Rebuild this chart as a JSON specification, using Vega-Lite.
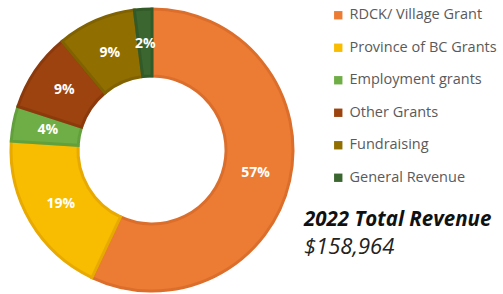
{
  "$schema": "https://vega.github.io/schema/vega-lite/v6.json",
  "width": 304,
  "height": 290,
  "autosize": {"type": "none"},
  "padding": {"left": 0, "top": 5, "right": 199, "bottom": 0},
  "background": "white",
  "title": {
    "text": "2022 Total Revenue",
    "subtitle": "$158,964",
    "orient": "top",
    "anchor": "start",
    "frame": "group",
    "dx": 304,
    "dy": 259,
    "font": "Open Sans",
    "fontSize": 20.5,
    "fontStyle": "italic",
    "fontWeight": "bold",
    "color": "#111111",
    "subtitleFont": "Open Sans",
    "subtitleFontSize": 22,
    "subtitleFontStyle": "italic",
    "subtitleFontWeight": "normal",
    "subtitleColor": "#222222",
    "subtitlePadding": 7
  },
  "data": {
    "values": [
      {"source": "RDCK/ Village Grant", "pct": 57, "label": "57%", "ord": 1},
      {"source": "Province of BC Grants", "pct": 19, "label": "19%", "ord": 2},
      {"source": "Employment grants", "pct": 4, "label": "4%", "ord": 3},
      {"source": "Other Grants", "pct": 9, "label": "9%", "ord": 4},
      {"source": "Fundraising", "pct": 9, "label": "9%", "ord": 5},
      {"source": "General Revenue", "pct": 2, "label": "2%", "ord": 6}
    ]
  },
  "encoding": {
    "theta": {"field": "pct", "type": "quantitative", "stack": true},
    "order": {"field": "ord", "type": "quantitative"}
  },
  "layer": [
    {
      "mark": {"type": "arc", "outerRadius": 141, "innerRadius": 74, "strokeWidth": 3},
      "encoding": {
        "color": {
          "field": "source",
          "type": "nominal",
          "sort": ["RDCK/ Village Grant", "Province of BC Grants", "Employment grants", "Other Grants", "Fundraising", "General Revenue"],
          "scale": {
            "domain": ["RDCK/ Village Grant", "Province of BC Grants", "Employment grants", "Other Grants", "Fundraising", "General Revenue"],
            "range": ["#EC7C34", "#F8BC00", "#6FAE47", "#9C430F", "#906E00", "#3B6630"]
          },
          "legend": {
            "orient": "none",
            "legendX": 331,
            "legendY": 3,
            "title": null,
            "symbolType": "square",
            "symbolSize": 70,
            "symbolStrokeWidth": 0,
            "labelFont": "Open Sans",
            "labelFontSize": 14.5,
            "labelColor": "#5a5a5a",
            "labelOffset": 4,
            "rowPadding": 17.5,
            "labelLimit": 200
          }
        },
        "stroke": {
          "field": "source",
          "type": "nominal",
          "scale": {
            "domain": ["RDCK/ Village Grant", "Province of BC Grants", "Employment grants", "Other Grants", "Fundraising", "General Revenue"],
            "range": ["#DC6E2C", "#E8AA00", "#62A03C", "#8C3A0C", "#806200", "#325A28"]
          },
          "legend": null
        }
      }
    },
    {
      "mark": {"type": "text", "radius": 106, "font": "Open Sans", "fontSize": 14, "fontWeight": "bold", "color": "white"},
      "encoding": {
        "text": {"field": "label", "type": "nominal"}
      }
    }
  ]
}
